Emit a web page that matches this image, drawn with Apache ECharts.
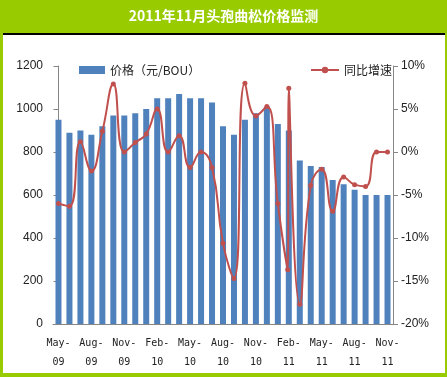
<!DOCTYPE html>
<html>
<head>
<meta charset="utf-8">
<script src="https://cdn.jsdelivr.net/npm/echarts@6/dist/echarts.min.js"></script>
<style>
  html, body { margin: 0; padding: 0; }
  #chart { width: 447px; height: 377px; }
</style>
</head>
<body>
<div id="chart"></div>
<script>
'use strict';

// 月份 (May-09 .. Nov-11)
const months = [
    'May-\n09', 'Jun-\n09', 'Jul-\n09', 'Aug-\n09', 'Sep-\n09', 'Oct-\n09', 'Nov-\n09',
    'Dec-\n09', 'Jan-\n10', 'Feb-\n10', 'Mar-\n10', 'Apr-\n10', 'May-\n10', 'Jun-\n10',
    'Jul-\n10', 'Aug-\n10', 'Sep-\n10', 'Oct-\n10', 'Nov-\n10', 'Dec-\n10', 'Jan-\n11',
    'Feb-\n11', 'Mar-\n11', 'Apr-\n11', 'May-\n11', 'Jun-\n11', 'Jul-\n11', 'Aug-\n11',
    'Sep-\n11', 'Oct-\n11', 'Nov-\n11'
];

// 价格（元/BOU）
const prices = [
    950, 890, 900, 880, 920, 970, 970, 980, 1000, 1050, 1050, 1070, 1050, 1050,
    1030, 920, 880, 950, 980, 1010, 930, 900, 760, 735, 730, 670, 650, 625,
    600, 600, 600
];

// 同比增速 (%) — x 为月份序号，Feb-11 处有两个点
const growthX = [
    0, 1, 2, 3, 4, 5, 6, 7, 8, 9, 10, 11, 12, 13, 14, 15, 16, 17, 18, 19, 20,
    20.9, 21, 22, 23, 24, 25, 26, 27, 28, 29, 30
];
const growth = [
    -6.0, -6.3, 1.2, -2.2, 2.4, 7.9, 0, 1.1, 2.1, 5.0, 0, 1.9, -1.8, 0, -1.8,
    -10.6, -14.7, 8.0, 4.2, 5.3, -6.0, -13.7, 7.4, -17.7, -3.9, -2.0, -6.9,
    -2.9, -3.8, -4.0, 0, 0
];

const leftTicks = { min: 0, max: 1200, interval: 200 };
const rightTicks = { min: -20, max: 10, interval: 5 };

const chart = echarts.init(document.getElementById('chart'));

const axisColor = '#868686';
const labelColor = '#222';
const labelFont = '"Liberation Sans", "Noto Sans CJK SC", sans-serif';

const option = {
    backgroundColor: '#99cc00',
    animation: false,
    graphic: [
        { type: 'rect', shape: { x: 3, y: 33, width: 442, height: 340 }, style: { fill: '#ffffff' }, z: -10 },
        { type: 'rect', shape: { x: 3, y: 33, width: 442, height: 2 }, style: { fill: '#000000' }, z: -9 },
        {
            type: 'text', left: 'center', top: 9,
            style: {
                text: '2011年11月头孢曲松价格监测',
                fill: '#ffffff',
                font: 'bold 14px "Noto Sans CJK SC", sans-serif'
            }
        }
    ],
    legend: [
        {
            data: [{ name: '价格（元/BOU）', icon: 'rect' }],
            left: 74, top: 59,
            itemWidth: 26, itemHeight: 8, itemGap: 2,
            textStyle: { fontSize: 12, color: labelColor, fontFamily: '"Noto Sans CJK SC", sans-serif' }
        },
        {
            data: ['同比增速'],
            left: 305, top: 59,
            itemWidth: 28, itemHeight: 8,
            textStyle: { fontSize: 12, color: labelColor, fontFamily: '"Noto Sans CJK SC", sans-serif' }
        }
    ],
    grid: { left: 53, right: 54, top: 66, bottom: 53, containLabel: false },
    xAxis: [
        {
            type: 'category',
            data: months,
            axisLine: { lineStyle: { color: axisColor } },
            axisTick: { interval: 2, length: 5, lineStyle: { color: axisColor } },
            axisLabel: {
                interval: 2,
                color: labelColor,
                fontSize: 10,
                lineHeight: 19,
                margin: 10,
                fontFamily: '"DejaVu Sans Mono", monospace'
            }
        },
        {
            type: 'value',
            min: -0.5, max: 30.5,
            show: false
        }
    ],
    yAxis: [
        {
            type: 'value',
            min: leftTicks.min, max: leftTicks.max, interval: leftTicks.interval,
            axisLine: { show: true, lineStyle: { color: axisColor } },
            axisTick: { show: true, length: 5, lineStyle: { color: axisColor } },
            splitLine: { show: false },
            axisLabel: { color: labelColor, fontSize: 12, margin: 10, fontFamily: labelFont, formatter: v => String(v) }
        },
        {
            type: 'value',
            min: rightTicks.min, max: rightTicks.max, interval: rightTicks.interval,
            position: 'right',
            axisLine: { show: true, lineStyle: { color: axisColor } },
            axisTick: { show: true, length: 5, lineStyle: { color: axisColor } },
            splitLine: { show: false },
            axisLabel: { color: labelColor, fontSize: 12, margin: 8, fontFamily: labelFont, formatter: v => v + '%' }
        }
    ],
    series: [
        {
            name: '价格（元/BOU）',
            type: 'bar',
            xAxisIndex: 0,
            yAxisIndex: 0,
            data: prices,
            barWidth: 6,
            itemStyle: { color: '#4f81bd' }
        },
        {
            name: '同比增速',
            type: 'line',
            xAxisIndex: 1,
            yAxisIndex: 1,
            data: growthX.map((x, i) => [x, growth[i]]),
            smooth: 0.5,
            symbol: 'circle',
            symbolSize: 5,
            lineStyle: { color: '#c0504d', width: 2 },
            itemStyle: { color: '#c0504d' },
            z: 3
        }
    ]
};

chart.setOption(option);
</script>
</body>
</html>
